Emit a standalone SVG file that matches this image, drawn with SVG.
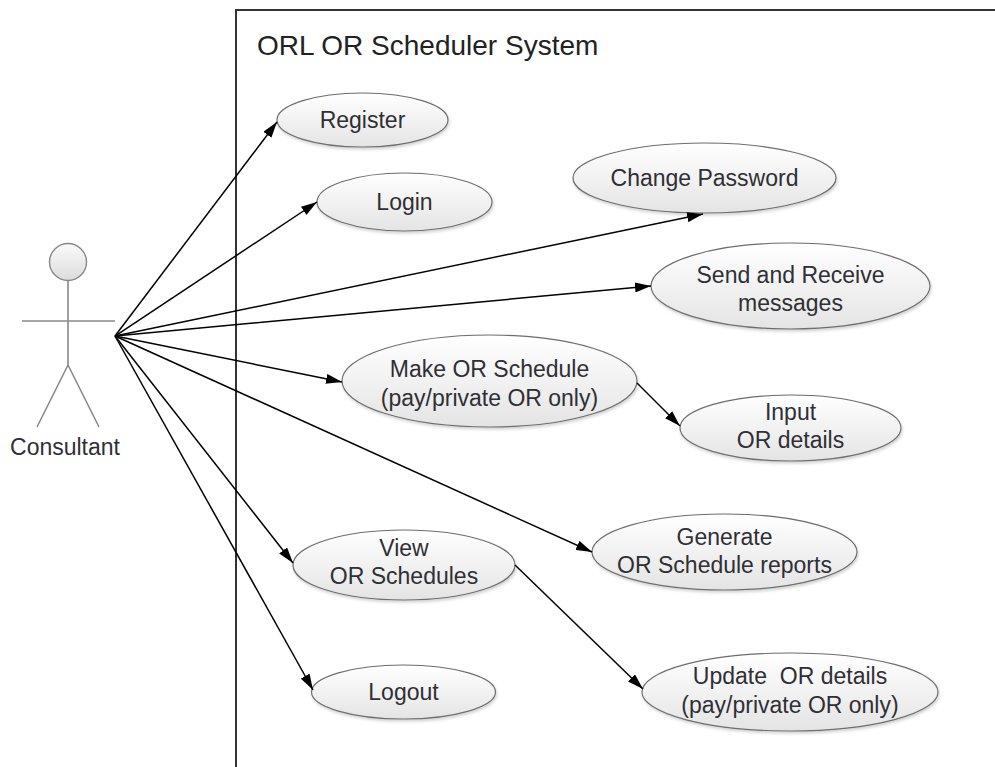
<svg xmlns="http://www.w3.org/2000/svg" width="995" height="767" viewBox="0 0 995 767">
<defs>
<linearGradient id="ug" x1="0" y1="0" x2="0" y2="1">
<stop offset="0" stop-color="#ffffff"/>
<stop offset="1" stop-color="#e4e4e4"/>
</linearGradient>
<linearGradient id="hg" x1="0" y1="0" x2="0" y2="1">
<stop offset="0" stop-color="#fafafa"/>
<stop offset="1" stop-color="#dcdcdc"/>
</linearGradient>
<filter id="sh" x="-10%" y="-10%" width="120%" height="130%">
<feDropShadow dx="1" dy="2" stdDeviation="1.5" flood-color="#000" flood-opacity="0.18"/>
</filter>
<marker id="ah" viewBox="0 0 16 10" refX="16" refY="5" markerWidth="16" markerHeight="10" markerUnits="userSpaceOnUse" orient="auto">
<path d="M0,0 L16,5 L0,10 Z" fill="#000"/>
</marker>
</defs>
<style>
.uc{fill:url(#ug);stroke:#6e6e6e;stroke-width:1.2;filter:url(#sh)}
.lbl{font-family:"Liberation Sans",Arial,sans-serif;font-size:23px;fill:#2f2f35;text-anchor:middle;white-space:pre}
.title{font-family:"Liberation Sans",Arial,sans-serif;font-size:28px;fill:#222}
.act{stroke:#888;stroke-width:1.6;fill:none}
.conn line{stroke:#000;stroke-width:1.5;marker-end:url(#ah)}
</style>
<rect width="995" height="767" fill="#fff"/>
<g id="system">
<path d="M236,767 L236,10 L995,10" fill="none" stroke="#333" stroke-width="2"/>
<text class="title" x="257" y="55">ORL OR Scheduler System</text>
</g>
<g id="consultant">
<circle cx="68" cy="262" r="18.5" fill="url(#hg)" stroke="#888" stroke-width="1.4"/>
<line class="act" x1="68" y1="280.5" x2="68" y2="365"/>
<line class="act" x1="22" y1="321" x2="115" y2="321"/>
<line class="act" x1="68" y1="365" x2="37" y2="427"/>
<line class="act" x1="68" y1="365" x2="99" y2="427"/>
<text class="lbl" x="65" y="455">Consultant</text>
</g>
<g id="register">
<ellipse class="uc" cx="362.5" cy="120" rx="85.5" ry="27"/>
<text class="lbl" x="362.5" y="128">Register</text>
</g>
<g id="login">
<ellipse class="uc" cx="404.5" cy="202" rx="87.5" ry="29"/>
<text class="lbl" x="404.5" y="210">Login</text>
</g>
<g id="change-password">
<ellipse class="uc" cx="704.5" cy="178" rx="131.5" ry="35"/>
<text class="lbl" x="704.5" y="186">Change Password</text>
</g>
<g id="send-receive">
<ellipse class="uc" cx="790.5" cy="286" rx="139.5" ry="43"/>
<text class="lbl" x="790.5" y="283">Send and Receive</text>
<text class="lbl" x="790.5" y="311">messages</text>
</g>
<g id="make-schedule">
<ellipse class="uc" cx="489.5" cy="381" rx="147.5" ry="46"/>
<text class="lbl" x="489.5" y="377">Make OR Schedule</text>
<text class="lbl" x="489.5" y="406">(pay/private OR only)</text>
</g>
<g id="input-details">
<ellipse class="uc" cx="790.5" cy="428" rx="110.5" ry="33"/>
<text class="lbl" x="790.5" y="420">Input</text>
<text class="lbl" x="790.5" y="448">OR details</text>
</g>
<g id="generate-reports">
<ellipse class="uc" cx="724.5" cy="552" rx="132.5" ry="38"/>
<text class="lbl" x="724.5" y="545">Generate</text>
<text class="lbl" x="724.5" y="573">OR Schedule reports</text>
</g>
<g id="view-schedules">
<ellipse class="uc" cx="404" cy="565" rx="111" ry="35"/>
<text class="lbl" x="404" y="556">View</text>
<text class="lbl" x="404" y="584">OR Schedules</text>
</g>
<g id="logout">
<ellipse class="uc" cx="403.5" cy="692" rx="92" ry="27"/>
<text class="lbl" x="403.5" y="700">Logout</text>
</g>
<g id="update-details">
<ellipse class="uc" cx="790" cy="692" rx="148" ry="39"/>
<text class="lbl" x="790" y="684">Update  OR details</text>
<text class="lbl" x="790" y="713">(pay/private OR only)</text>
</g>
<g id="connectors" class="conn">
<line x1="115" y1="336" x2="277" y2="122"/>
<line x1="115" y1="336" x2="317" y2="202"/>
<line x1="115" y1="336" x2="703" y2="214"/>
<line x1="115" y1="336" x2="651" y2="286"/>
<line x1="115" y1="336" x2="342" y2="382"/>
<line x1="115" y1="336" x2="592" y2="552"/>
<line x1="115" y1="336" x2="293" y2="563"/>
<line x1="115" y1="336" x2="313" y2="690"/>
<line x1="637" y1="383" x2="680" y2="426"/>
<line x1="515" y1="565" x2="643" y2="689"/>
</g>
</svg>
